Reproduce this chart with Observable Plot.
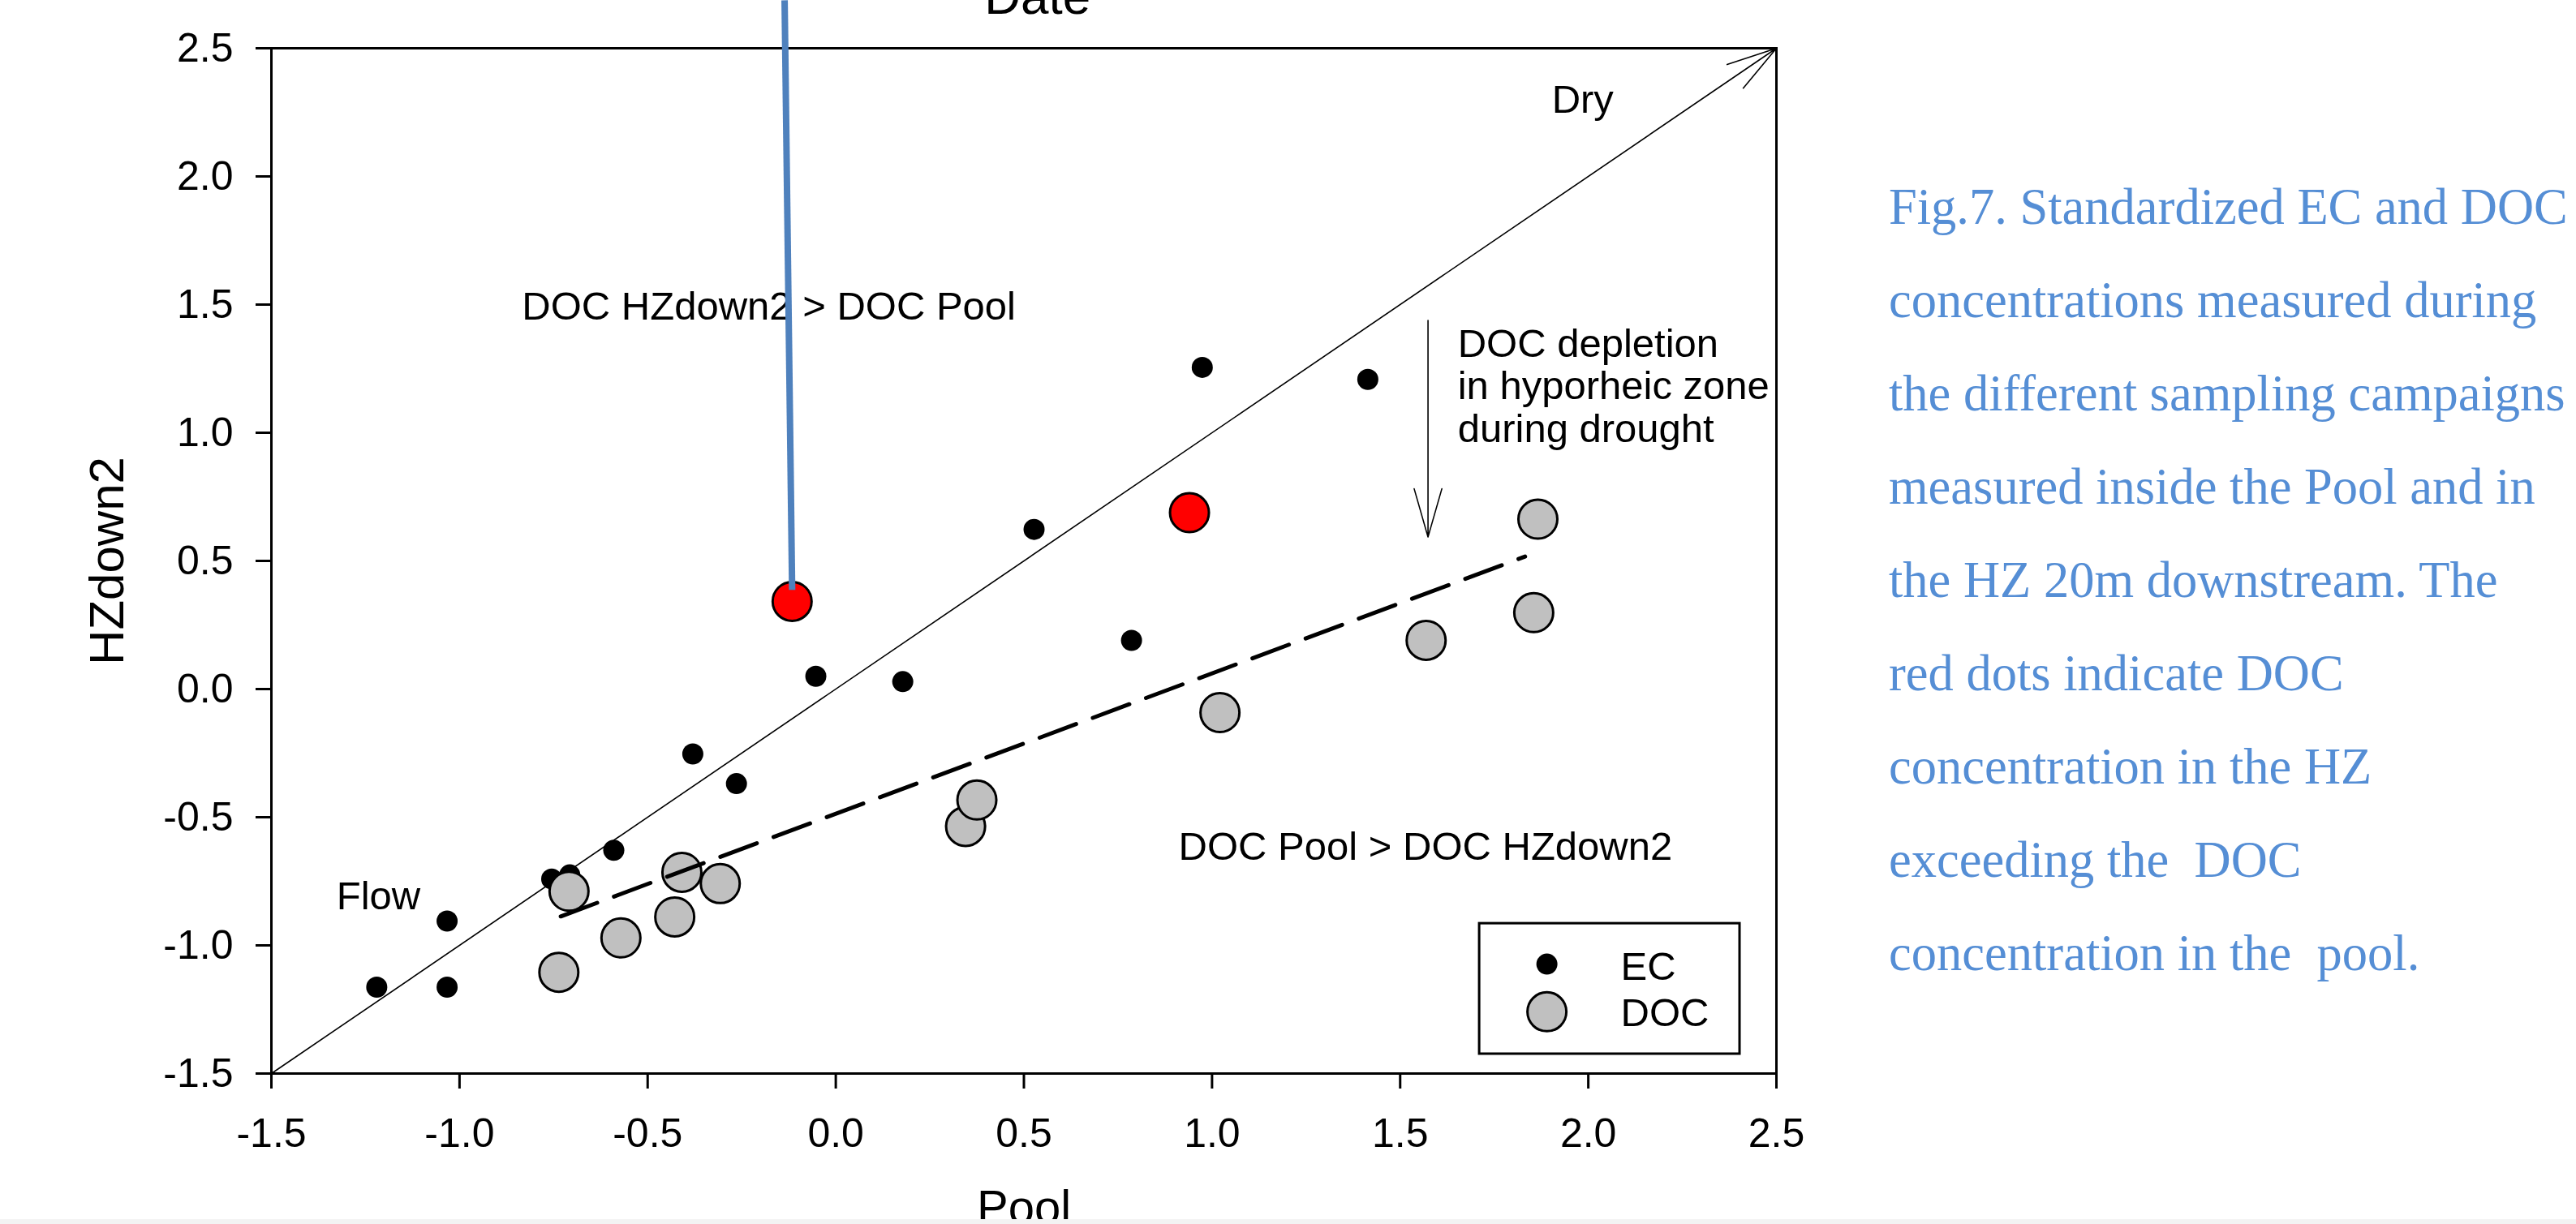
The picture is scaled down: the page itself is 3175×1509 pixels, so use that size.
<!DOCTYPE html>
<html>
<head>
<meta charset="utf-8">
<script src="https://cdn.jsdelivr.net/npm/d3@7"></script>
<script src="https://cdn.jsdelivr.net/npm/@observablehq/plot@0.6"></script>
<style>
  html, body { margin: 0; padding: 0; background: #fff; }
  body { width: 3175px; height: 1509px; position: relative; overflow: hidden; }
  #chart { position: absolute; left: 0; top: 0; }
  #caption {
    position: absolute; left: 2328px; top: 198px;
    font-family: "Liberation Serif", "Times New Roman", serif;
    font-size: 62.5px; line-height: 115px; color: #558ED5; white-space: pre;
  }
  #strip { position: absolute; left: 0; bottom: 0; width: 100%; height: 6px; background: #f3f3f3; }
</style>
</head>
<body>
<div id="chart"></div>
<div id="caption"></div>
<div id="strip"></div>
<script>
// ---- data (standardized values) ----
const ecPool = [-1.22, -1.033, -1.033, -0.755, -0.707, -0.590, -0.380, -0.264, -0.053, 0.178, 0.527, 0.786, 0.974, 1.414];
const ecHZ   = [-1.163, -0.905, -1.163, -0.741, -0.725, -0.629, -0.253, -0.369, 0.050, 0.029, 0.623, 0.190, 1.255, 1.208];

const docPool = [-0.736, -0.709, -0.571, -0.428, -0.409, -0.307, 0.345, 0.375, 1.021, 1.569, 1.855, 1.866];
const docHZ   = [-1.105, -0.789, -0.971, -0.889, -0.715, -0.759, -0.536, -0.433, -0.092, 0.190, 0.298, 0.663];

// DOC samples where HZ exceeds pool (red)
const redPool = [-0.116, 0.940];
const redHZ   = [0.342, 0.688];

// DOC regression line end points
const fitPool = [-0.731, 1.832];
const fitHZ   = [-0.887, 0.517];

const xTicks = [-1.5, -1.0, -0.5, 0.0, 0.5, 1.0, 1.5, 2.0, 2.5];
const yTicks = [-1.5, -1.0, -0.5, 0.0, 0.5, 1.0, 1.5, 2.0, 2.5];

const xTitle = "Pool";
const yTitle = "HZdown2";
const legendLabels = ["EC", "DOC"];

const captionLines = [
  "Fig.7. Standardized EC and DOC",
  "concentrations measured during",
  "the different sampling campaigns",
  "measured inside the Pool and in",
  "the HZ 20m downstream. The",
  "red dots indicate DOC",
  "concentration in the HZ",
  "exceeding the  DOC",
  "concentration in the  pool."
];

// ---- build tables ----
const ec  = ecPool.map((p, i) => ({pool: p, hz: ecHZ[i]}));
const doc = docPool.map((p, i) => ({pool: p, hz: docHZ[i]}));
const red = redPool.map((p, i) => ({pool: p, hz: redHZ[i]}));
const fit = fitPool.map((p, i) => ({pool: p, hz: fitHZ[i]}));

// annotations (layout in data coordinates)
const notes = [
  {x: -0.834, y: 1.441, text: "DOC HZdown2 > DOC Pool"},
  {x: 0.911,  y: -0.667, text: "DOC Pool > DOC HZdown2"},
  {x: 1.653,  y: 0.965, text: "DOC depletion\nin hyporheic zone\nduring drought"},
  {x: -1.327, y: -0.858, text: "Flow"},
  {x: 1.903,  y: 2.25,  text: "Dry"}
];

const W = 2240, H = 1509;
const fmt = d => d.toFixed(1);
const ink = "black";

const chart = Plot.plot({
  width: W,
  height: H,
  marginLeft: 334,
  marginRight: W - 2189,
  marginTop: 59,
  marginBottom: H - 1323,
  x: {domain: [-1.5, 2.5]},
  y: {domain: [-1.5, 2.5]},
  style: {
    fontFamily: "'Liberation Sans', Arial, sans-serif",
    fontSize: "49px",
    color: "black",
    background: "white",
    overflow: "visible"
  },
  marks: [
    Plot.frame({stroke: ink, strokeWidth: 3}),
    Plot.axisX({ticks: xTicks, tickFormat: fmt, tickSize: 19, tickPadding: 36, fontSize: 50, strokeWidth: 3, label: null}),
    Plot.axisY({ticks: yTicks, tickFormat: fmt, tickSize: 19, tickPadding: 28, fontSize: 50, strokeWidth: 3, label: null}),
    Plot.text([xTitle], {frameAnchor: "bottom", textAnchor: "middle", dy: 184, lineAnchor: "bottom", fontSize: 58}),
    Plot.text([yTitle], {frameAnchor: "left", textAnchor: "middle", dx: -183, rotate: -90, lineAnchor: "bottom", fontSize: 60}),
    // "Date" title of the panel above (cropped)
    Plot.text(["Date"], {x: 0.536, y: 2.634, lineAnchor: "bottom", fontSize: 62}),
    // 1:1 line with arrow head (Flow -> Dry)
    Plot.arrow([{x1: -1.5, y1: -1.5, x2: 2.5, y2: 2.5}], {x1: "x1", y1: "y1", x2: "x2", y2: "y2", stroke: ink, strokeWidth: 1.6, headLength: 60, headAngle: 32}),
    // depletion arrow
    Plot.arrow([{x1: 1.574, y1: 1.438, x2: 1.574, y2: 0.593}], {x1: "x1", y1: "y1", x2: "x2", y2: "y2", stroke: ink, strokeWidth: 1.6, headLength: 58, headAngle: 32}),
    Plot.text(notes, {x: "x", y: "y", text: "text", textAnchor: "start", lineAnchor: "bottom", fontSize: 49, lineHeight: 1.065}),
    // data
    Plot.dot(ec, {x: "pool", y: "hz", r: 13, fill: ink, stroke: "none"}),
    Plot.dot(doc, {x: "pool", y: "hz", r: 24, fill: "#c0c0c0", stroke: ink, strokeWidth: 3}),
    Plot.dot(red, {x: "pool", y: "hz", r: 24, fill: "#ff0000", stroke: ink, strokeWidth: 3}),
    Plot.line(fit, {x: "pool", y: "hz", stroke: ink, strokeWidth: 5, strokeDasharray: "48,22"}),
    // legend
    Plot.rect([{x1: 1.711, x2: 2.403, y1: -1.424, y2: -0.915}], {x1: "x1", x2: "x2", y1: "y1", y2: "y2", fill: "white", stroke: ink, strokeWidth: 3}),
    Plot.dot([{x: 1.890, y: -1.073}], {x: "x", y: "y", r: 13, fill: ink}),
    Plot.dot([{x: 1.890, y: -1.259}], {x: "x", y: "y", r: 24, fill: "#c0c0c0", stroke: ink, strokeWidth: 3}),
    Plot.text([{x: 2.086, y: -1.133, t: legendLabels[0]}, {x: 2.086, y: -1.316, t: legendLabels[1]}],
      {x: "x", y: "y", text: "t", textAnchor: "start", lineAnchor: "bottom", fontSize: 49}),
    // blue pointer line
    Plot.link([{x1: -0.136, y1: 2.687, x2: -0.116, y2: 0.387}], {x1: "x1", y1: "y1", x2: "x2", y2: "y2", stroke: "#4F81BD", strokeWidth: 8})
  ]
});

document.getElementById("chart").appendChild(chart);
document.getElementById("caption").textContent = captionLines.join("\n");
</script>
</body>
</html>
